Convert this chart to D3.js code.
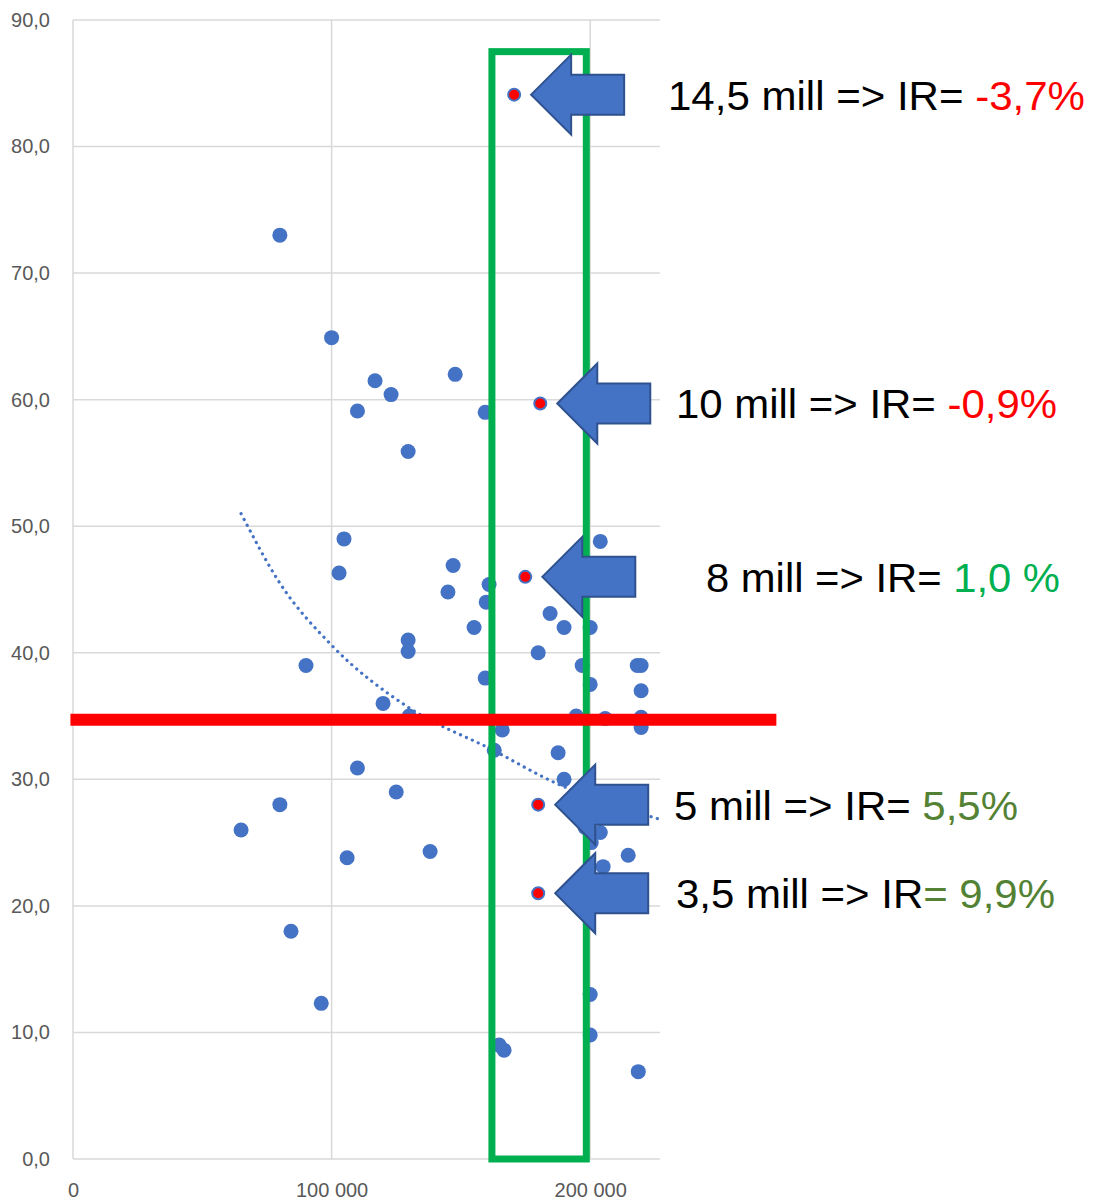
<!DOCTYPE html>
<html>
<head>
<meta charset="utf-8">
<script src="https://cdn.jsdelivr.net/npm/d3@7"></script>
<style>
  body { margin: 0; background: #fff; }
  svg { display: block; }
</style>
</head>
<body>
<svg width="1102" height="1203"></svg>
<script>
// data
const blueX = [80000, 100000, 116800, 123000, 110000, 147800, 159400, 129600, 104800, 102900,
  147000, 145000, 160900, 159800, 155100, 129600, 129600, 90100, 159400, 119900,
  130000, 110000, 125000, 80000, 65000, 106000, 138100, 84300, 96000,
  203900, 184500, 189900, 200000, 179900, 196900, 200000, 218200, 219700, 219700,
  194600, 205800, 219700, 219700, 166000, 162900, 187600, 189900, 198000, 203900,
  200400, 205000, 214700, 200000, 200000, 166700, 164800, 218600]
const blueY = [73.0, 64.9, 61.5, 60.4, 59.1, 62.0, 59.0, 55.9, 49.0, 46.3,
  46.9, 44.8, 45.4, 44.0, 42.0, 41.0, 40.1, 39.0, 38.0, 36.0,
  35.0, 30.9, 29.0, 28.0, 26.0, 23.8, 24.3, 18.0, 12.3,
  48.8, 43.1, 42.0, 42.0, 40.0, 39.0, 37.5, 39.0, 39.0, 37.0,
  35.0, 34.8, 34.9, 34.1, 33.9, 32.3, 32.1, 30.0, 26.2, 25.8,
  25.0, 23.1, 24.0, 13.0, 9.8, 8.6, 9.0, 6.9]

const redX = [170600, 180700, 174900, 179900, 179900]
const redY = [84.1, 59.7, 46.0, 28.0, 21.0]

// dotted trend line
const trendX = [65000, 80000, 100000, 129600, 162500, 185700, 226000]
const trendY = [51.0, 45.5, 40.6, 35.7, 32.3, 29.8, 26.9]

const labelText = ['14,5 mill => IR= ', '10 mill => IR= ', '8 mill => IR= ', '5 mill => IR= ', '3,5 mill => IR']
const labelValue = ['-3,7%', '-0,9%', '1,0 %', '5,5%', '= 9,9%']
const valueColor = ['#ff0000', '#ff0000', '#00b050', '#548235', '#548235']

const yTicks = [0, 10, 20, 30, 40, 50, 60, 70, 80, 90]
const xTicks = [0, 100000, 200000]

const thresholdY = 34.7
const boxX = [162000, 198500]
const boxTop = 87.5

// layout
const labelLeft = [668, 676, 706, 674, 676]
const labelWidth = [417, 381, 354, 344, 379]

const svg = d3.select('svg')
const plotLeft = 73, plotRight = 660, plotTop = 20, plotBottom = 1159

const x = d3.scaleLinear().domain([0, 227000]).range([plotLeft, plotRight])
const y = d3.scaleLinear().domain([0, 90]).range([plotBottom, plotTop])

const loc = d3.formatLocale({decimal: ',', thousands: ' ', grouping: [3], currency: ['', '']})
const fmtY = loc.format('.1f')
const fmtX = loc.format(',d')

const font = "'Liberation Sans', Arial, sans-serif"

svg.append('rect').attr('width', 1102).attr('height', 1203).attr('fill', '#fff')

// grid
const grid = svg.append('g').attr('stroke', '#d9d9d9').attr('stroke-width', 1.5)
grid.selectAll('.h').data(yTicks).enter().append('line')
  .attr('x1', plotLeft).attr('x2', plotRight)
  .attr('y1', d => y(d)).attr('y2', d => y(d))
grid.selectAll('.v').data(xTicks).enter().append('line')
  .attr('x1', d => x(d)).attr('x2', d => x(d))
  .attr('y1', plotTop).attr('y2', plotBottom)

// axes
const yAxis = svg.append('g')
  .attr('transform', 'translate(' + plotLeft + ',0)')
  .call(d3.axisLeft(y).tickValues(yTicks).tickSize(0).tickPadding(23).tickFormat(fmtY))
yAxis.select('.domain').remove()
yAxis.selectAll('text').attr('fill', '#595959').attr('font-size', 20).attr('font-family', font)

const xAxis = svg.append('g')
  .attr('transform', 'translate(0,' + plotBottom + ')')
  .call(d3.axisBottom(x).tickValues(xTicks).tickSize(0).tickPadding(24).tickFormat(fmtX))
xAxis.select('.domain').remove()
xAxis.selectAll('text').attr('fill', '#595959').attr('font-size', 20).attr('font-family', font)

// trend line
const trend = trendX.map((d, i) => [d, trendY[i]])
svg.append('path')
  .datum(trend)
  .attr('fill', 'none')
  .attr('stroke', '#4472c4')
  .attr('stroke-width', 3.2)
  .attr('stroke-linecap', 'round')
  .attr('stroke-dasharray', '0.1 6.4')
  .attr('d', d3.line().x(d => x(d[0])).y(d => y(d[1])).curve(d3.curveMonotoneX))

// points
const blue = blueX.map((d, i) => ({x: d, y: blueY[i]}))
svg.append('g').selectAll('circle').data(blue).enter().append('circle')
  .attr('cx', d => x(d.x)).attr('cy', d => y(d.y))
  .attr('r', 7.5)
  .attr('fill', '#4472c4')

const red = redX.map((d, i) => ({x: d, y: redY[i]}))
svg.append('g').selectAll('circle').data(red).enter().append('circle')
  .attr('cx', d => x(d.x)).attr('cy', d => y(d.y))
  .attr('r', 6)
  .attr('fill', '#ff0000')
  .attr('stroke', '#4472c4')
  .attr('stroke-width', 2)

// green box
svg.append('rect')
  .attr('x', x(boxX[0])).attr('y', y(boxTop))
  .attr('width', x(boxX[1]) - x(boxX[0]))
  .attr('height', y(0) - y(boxTop))
  .attr('fill', 'none')
  .attr('stroke', '#00b050')
  .attr('stroke-width', 7)

// red threshold line
svg.append('line')
  .attr('x1', x(-1000)).attr('x2', x(272000))
  .attr('y1', y(thresholdY)).attr('y2', y(thresholdY))
  .attr('stroke', '#ff0000')
  .attr('stroke-width', 12)

// arrows pointing at the red points
function arrowPath (tx, ty) {
  return 'M' + tx + ',' + ty +
    'L' + (tx + 40) + ',' + (ty - 40) +
    'L' + (tx + 40) + ',' + (ty - 20) +
    'L' + (tx + 93) + ',' + (ty - 20) +
    'L' + (tx + 93) + ',' + (ty + 20) +
    'L' + (tx + 40) + ',' + (ty + 20) +
    'L' + (tx + 40) + ',' + (ty + 40) + 'Z'
}
svg.append('g').selectAll('path').data(red).enter().append('path')
  .attr('d', d => arrowPath(x(d.x) + 17, y(d.y)))
  .attr('fill', '#4472c4')
  .attr('stroke', '#2f528f')
  .attr('stroke-width', 2)
  .attr('stroke-linejoin', 'miter')

// annotations
const labels = svg.append('g').selectAll('text').data(red).enter().append('text')
  .attr('x', (d, i) => labelLeft[i])
  .attr('y', d => y(d.y) + 15)
  .attr('font-family', font)
  .attr('font-size', 41)
  .attr('fill', '#000')
  .attr('textLength', (d, i) => labelWidth[i])
  .attr('lengthAdjust', 'spacingAndGlyphs')
labels.append('tspan').text((d, i) => labelText[i])
labels.append('tspan').attr('fill', (d, i) => valueColor[i]).text((d, i) => labelValue[i])
</script>
</body>
</html>
